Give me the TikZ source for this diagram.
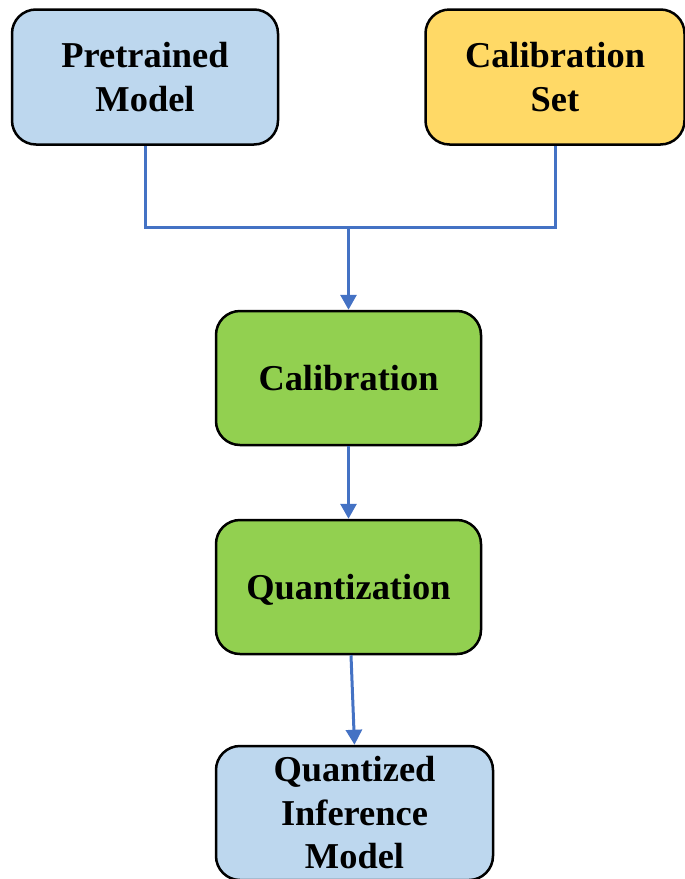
\documentclass[tikz,border=0pt]{standalone}
\usepackage{fontspec}
\setmainfont{Liberation Serif}
\usetikzlibrary{arrows.meta}
\definecolor{boxblue}{HTML}{BDD7EE}
\definecolor{boxyellow}{HTML}{FFD966}
\definecolor{boxgreen}{HTML}{92D050}
\definecolor{linkblue}{HTML}{4472C4}
\begin{document}
\begin{tikzpicture}[x=1pt,y=-1pt,
  stage/.style={draw=black, line width=2.5pt, rounded corners=24pt,
    minimum width=266pt, minimum height=135pt, align=center, inner sep=0pt,
    font=\fontsize{36.4pt}{43.5pt}\selectfont\bfseries},
  oneline/.style={text depth=0pt},
  link/.style={draw=linkblue, line width=3pt},
  arr/.style={link, -{Triangle[width=16pt,length=15pt]}}]
\useasboundingbox (0,0) rectangle (685,879);
\node[stage, fill=boxblue] (pre) at (145,77) {Pretrained\\Model};
\node[stage, fill=boxyellow, minimum width=259pt] (cset) at (555,77) {Calibration\\Set};
\node[stage, oneline, fill=boxgreen, minimum width=265pt, minimum height=134pt] (cal) at (348.5,378) {Calibration};
\node[stage, oneline, fill=boxgreen, minimum width=265pt, minimum height=134pt] (quant) at (348.5,587) {Quantization};
\node[stage, fill=boxblue, minimum width=277pt, minimum height=134pt] (qim) at (354.5,813) {Quantized\\Inference\\Model};
\coordinate (join) at (348.5,227);
\draw[link] (pre.south) |- (join) -| (cset.south);
\draw[arr] (join) -- (cal.north);
\draw[arr] (cal.south) -- (quant.north);
\draw[arr] ([xshift=2.5pt]quant.south) -- (qim.north);
\end{tikzpicture}
\end{document}
